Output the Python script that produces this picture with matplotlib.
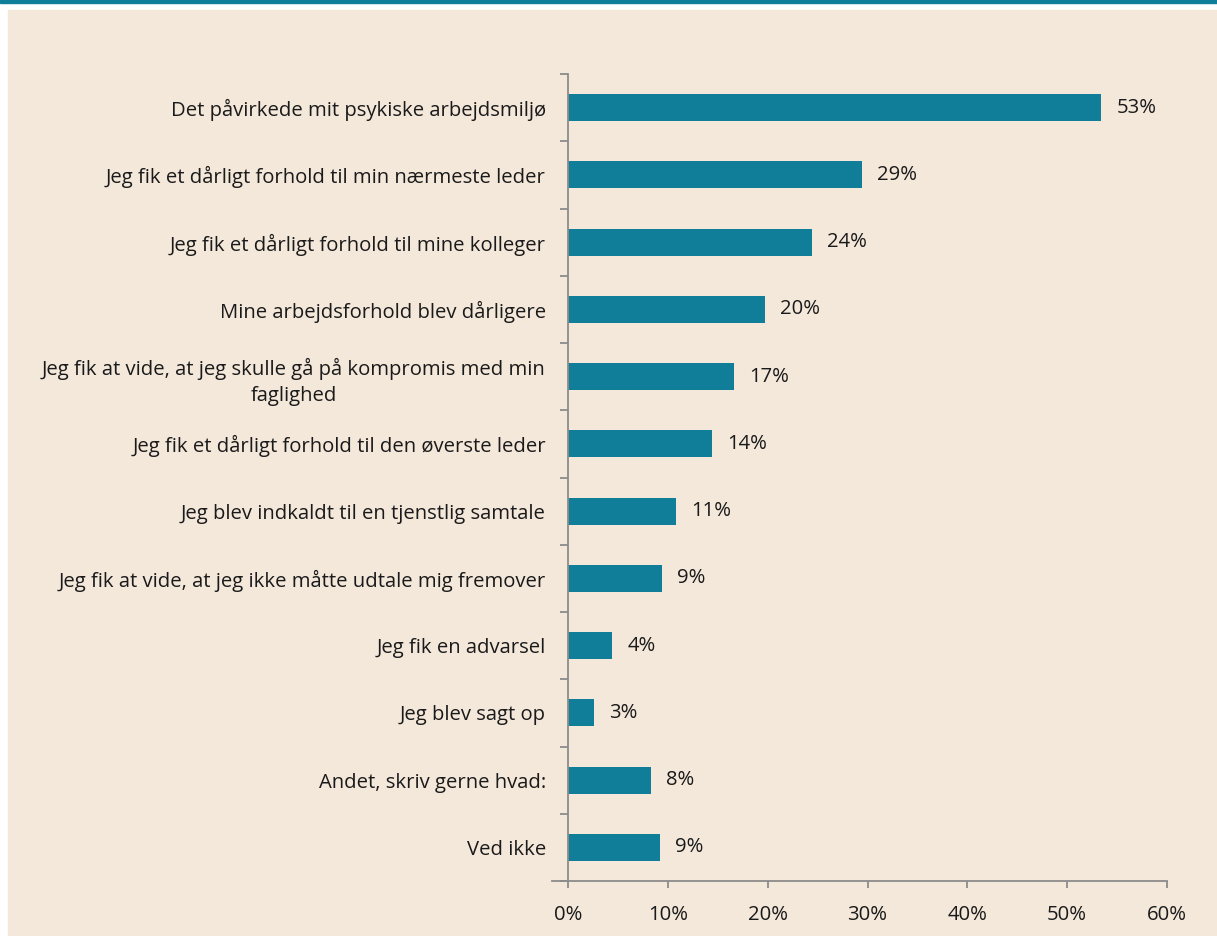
import matplotlib.pyplot as plt
from matplotlib.patches import Rectangle
import numpy as np

plt.rcParams['font.family'] = ['Open Sans', 'DejaVu Sans']

categories = [
    "Det påvirkede mit psykiske arbejdsmiljø",
    "Jeg fik et dårligt forhold til min nærmeste leder",
    "Jeg fik et dårligt forhold til mine kolleger",
    "Mine arbejdsforhold blev dårligere",
    "Jeg fik at vide, at jeg skulle gå på kompromis med min\nfaglighed",
    "Jeg fik et dårligt forhold til den øverste leder",
    "Jeg blev indkaldt til en tjenstlig samtale",
    "Jeg fik at vide, at jeg ikke måtte udtale mig fremover",
    "Jeg fik en advarsel",
    "Jeg blev sagt op",
    "Andet, skriv gerne hvad:",
    "Ved ikke",
]
values = [53.4, 29.4, 24.4, 19.7, 16.6, 14.4, 10.8, 9.4, 4.4, 2.6, 8.3, 9.2]
labels = ["53%", "29%", "24%", "20%", "17%", "14%", "11%", "9%", "4%", "3%", "8%", "9%"]
xticks = [0, 10, 20, 30, 40, 50, 60]

bar_color = "#117E99"
bg = "#F4E8DB"
axis_gray = "#8C8C8C"
text_color = "#1A1A1A"
fs = 14.6

fig = plt.figure(figsize=(12.17, 9.36), dpi=100, facecolor="white")
# beige panel and teal line at the top
fig.patches.append(Rectangle((8 / 1217, 0), 1 - 8 / 1217, 1 - 10 / 936,
                             transform=fig.transFigure, color=bg, zorder=-10))
fig.patches.append(Rectangle((0, 1 - 3 / 936), 1, 3 / 936,
                             transform=fig.transFigure, color="#117E99", zorder=-10))

ax = fig.add_axes([568 / 1217, 1 - 881 / 936, (1167 - 568) / 1217, (881 - 74) / 936])
ax.set_facecolor("none")

y = np.arange(len(categories))
ax.barh(y, values, height=0.4, color=bar_color)
for yi, v, lab in zip(y, values, labels):
    ax.annotate(lab, (v, yi), xytext=(11, 0), textcoords="offset points",
                va="center", ha="left", fontsize=fs, color=text_color)

ax.set_ylim(len(categories) - 0.5, -0.5)
ax.set_xlim(0, 60)
ax.set_yticks(y)
ax.set_yticklabels(categories)
ax.set_yticks(np.arange(len(categories) + 1) - 0.5, minor=True)
ax.tick_params(axis="y", which="major", length=0, pad=16, labelsize=fs, labelcolor=text_color)
ax.tick_params(axis="y", which="minor", length=5.5, width=1.3, color=axis_gray, direction="out")
for t in ax.get_yticklabels():
    t.set_multialignment("center")
    t.set_linespacing(1.4)

ax.set_xticks(xticks)
ax.set_xticklabels([f"{t}%" for t in xticks])
ax.tick_params(axis="x", length=5, width=1.3, color=axis_gray, pad=12,
               labelsize=fs, labelcolor=text_color)

for s in ["top", "right"]:
    ax.spines[s].set_visible(False)
for s in ["left", "bottom"]:
    ax.spines[s].set_color(axis_gray)
    ax.spines[s].set_linewidth(1.3)
# small extension of the x axis to the left
ax.plot([-16 / 599, 0], [0, 0], transform=ax.transAxes, color=axis_gray,
        lw=1.3, clip_on=False)

fig.savefig("out.png", dpi=100, facecolor="white")
